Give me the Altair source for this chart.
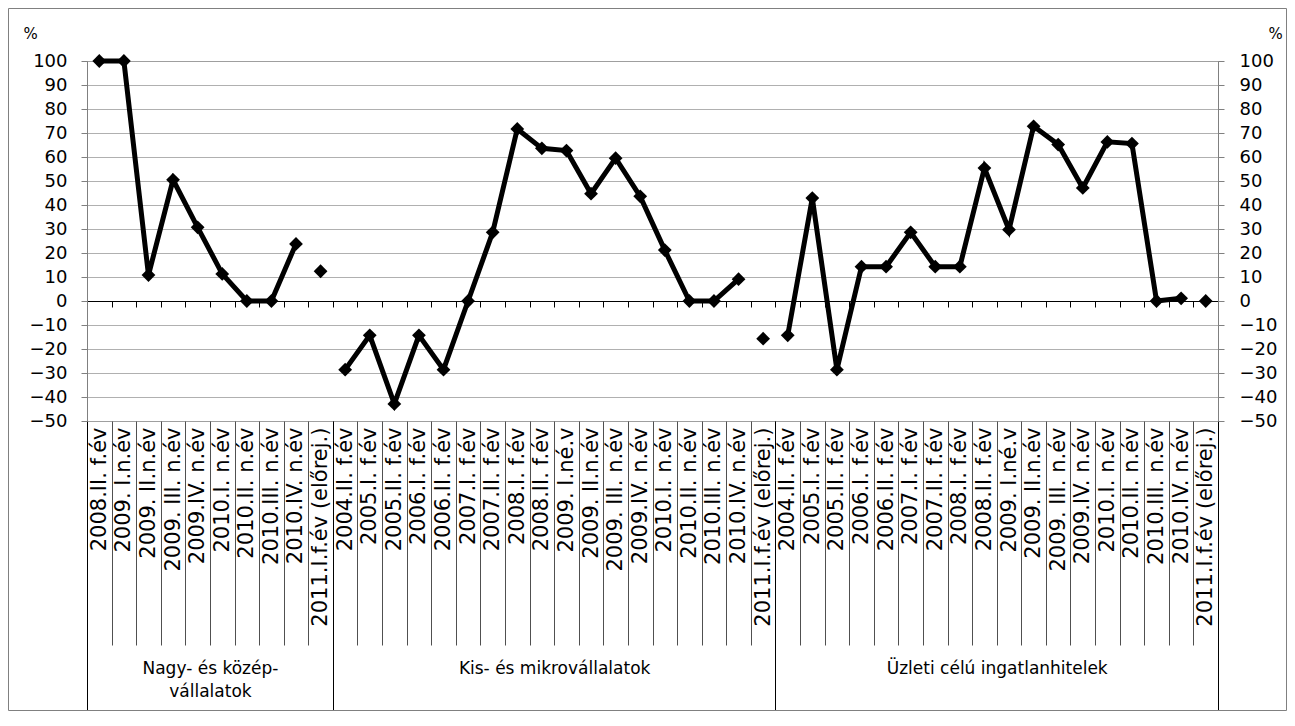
import json
import altair as alt
import pandas as pd

group_names = ["Nagy- és közép-vállalatok", "Kis- és mikrovállalatok", "Üzleti célú ingatlanhitelek"]

labels_g1 = ["2008.II. f.év", "2009. I.n.év", "2009. II.n.év", "2009. III. n.év", "2009.IV. n.év",
             "2010.I. n.év", "2010.II. n.év", "2010.III. n.év", "2010.IV. n.év", "2011.I.f.év (előrej.)"]
labels_g23 = ["2004.II. f.év", "2005.I. f.év", "2005.II. f.év", "2006.I. f.év", "2006.II. f.év",
              "2007.I. f.év", "2007.II. f.év", "2008.I. f.év", "2008.II. f.év", "2009. I.né.v",
              "2009. II.n.év", "2009. III. n.év", "2009.IV. n.év", "2010.I. n.év", "2010.II. n.év",
              "2010.III. n.év", "2010.IV. n.év", "2011.I.f.év (előrej.)"]

values_g1 = [100, 100, 10.8, 50.5, 30.7, 11.3, 0, 0, 23.8, 12.4]
values_g2 = [-28.6, -14.3, -42.9, -14.3, -28.6, 0, 28.6, 71.7, 63.6, 62.7, 44.7, 59.5, 43.6, 21.2, 0, 0, 9.1, -15.7]
values_g3 = [-14.3, 42.9, -28.6, 14.3, 14.3, 28.6, 14.3, 14.3, 55.4, 29.7, 72.8, 65.2, 47.1, 66.3, 65.6, 0, 1.1, 0]

y_ticks = [-50, -40, -30, -20, -10, 0, 10, 20, 30, 40, 50, 60, 70, 80, 90, 100]

all_labels = labels_g1 + labels_g23 + labels_g23
groups = [(group_names[0], labels_g1, values_g1),
          (group_names[1], labels_g23, values_g2),
          (group_names[2], labels_g23, values_g3)]
rows = []
pos = 0
bounds = [0]
centers = []
for g, labs, vals in groups:
    start = pos
    for i, (lab, v) in enumerate(zip(labs, vals)):
        rows.append({"idx": pos + 0.5, "value": v, "group": g,
                     "forecast": i == len(labs) - 1, "label": lab})
        pos += 1
    bounds.append(pos)
    centers.append((start + pos) / 2)
df = pd.DataFrame(rows)
N = pos

FONT = "DejaVu Sans"
xscale = alt.Scale(domain=[0, N], nice=False, zero=False)
yscale = alt.Scale(domain=[-50, 100], nice=False, zero=False)

label_expr = json.dumps(all_labels, ensure_ascii=False) + "[floor(datum.value)]"
group_expr = ("datum.value < %d ? ['Nagy- és közép-', 'vállalatok'] : datum.value < %d ? "
              "'Kis- és mikrovállalatok' : 'Üzleti célú ingatlanhitelek'") % (bounds[1], bounds[2])

base = alt.Chart(df)

# Main line with category labels + left y axis
line = base.transform_filter("!datum.forecast").mark_line(
    color="black", strokeWidth=5
).encode(
    x=alt.X("idx:Q", scale=xscale, axis=alt.Axis(
        orient="bottom", values=[i + 0.5 for i in range(N)], labelExpr=label_expr,
        labelAngle=270, labelAlign="right", labelBaseline="middle",
        labelFontSize=21, labelFont=FONT, labelColor="black", labelPadding=6, labelLimit=0,
        labelOverlap=False, labelFlush=False, ticks=False, domain=False, grid=False, title=None)),
    y=alt.Y("value:Q", scale=yscale, axis=alt.Axis(
        orient="left", values=y_ticks, labelFontSize=18, labelFont=FONT, labelColor="black",
        tickSize=6, tickColor="#808080", domainColor="#808080", labelPadding=14,
        grid=True, gridColor="#606060", gridDash=[1, 1], gridWidth=1,
        title="%", titleAngle=0, titleX=-57, titleY=-28, titleAlign="center",
        titleBaseline="middle", titleFontWeight="normal", titleFontSize=15, titleFont=FONT)),
    detail="group:N",
)

# Diamonds on the line + category separators + right y axis
pts = base.transform_filter("!datum.forecast").mark_point(
    shape="diamond", filled=True, color="black", size=190, opacity=1
).encode(
    x=alt.X("idx:Q", scale=xscale, axis=alt.Axis(
        orient="bottom", values=list(range(N + 1)), labels=False, ticks=True, tickSize=224,
        tickColor="#505050", tickWidth=1, domain=False, grid=False, title=None)),
    y=alt.Y("value:Q", scale=yscale, axis=alt.Axis(
        orient="right", values=y_ticks, labelFontSize=18, labelFont=FONT, labelColor="black",
        tickSize=6, tickColor="#808080", domainColor="#808080", labelPadding=15, grid=False,
        title="%", titleAngle=0, titleX=57, titleY=-28, titleAlign="center",
        titleBaseline="middle", titleFontWeight="normal", titleFontSize=15, titleFont=FONT)),
)

# Forecast diamonds + group separators
fc = base.transform_filter("datum.forecast").mark_point(
    shape="diamond", filled=True, color="black", size=190, opacity=1
).encode(
    x=alt.X("idx:Q", scale=xscale, axis=alt.Axis(
        orient="bottom", values=bounds, labels=False, ticks=True, tickSize=290,
        tickColor="black", tickWidth=1, domain=False, grid=False, title=None)),
    y=alt.Y("value:Q", scale=yscale, axis=None),
)

# Group labels
grp = base.mark_point(opacity=0).encode(
    x=alt.X("idx:Q", scale=xscale, axis=alt.Axis(
        orient="bottom", values=centers, labelExpr=group_expr, labelAngle=0,
        labelAlign="center", labelBaseline="top", labelFontSize=17, labelFont=FONT,
        labelColor="black", labelPadding=239, labelLineHeight=23, labelLimit=0,
        labelOverlap=False, labelFlush=False, ticks=False, domain=False, grid=False, title=None)),
    y=alt.Y("value:Q", scale=yscale, axis=None),
)

# Zero line with small ticks
zero = base.mark_point(opacity=0).encode(
    x=alt.X("idx:Q", scale=xscale, axis=alt.Axis(
        orient="bottom", offset=-120, values=list(range(N + 1)), labels=False, ticks=True,
        tickSize=6, tickColor="black", domain=True, domainColor="black", domainWidth=1,
        grid=False, title=None)),
    y=alt.Y("value:Q", scale=yscale, axis=None),
)

border = alt.Chart(alt.Data(values=[{"a": 1}])).mark_rect(
    filled=False, stroke="#808080", strokeWidth=1
).encode(
    x=alt.value(-78.5), x2=alt.value(1131 + 68.5),
    y=alt.value(-52.5), y2=alt.value(360 + 289.5),
)

chart = alt.layer(line, pts, fc, grp, zero, border).resolve_axis(
    x="independent", y="independent"
).properties(
    width=1131, height=360,
    autosize=alt.AutoSizeParams(type="none"),
    padding={"left": 79, "top": 53, "right": 69, "bottom": 290},
).configure_view(stroke="#808080", strokeWidth=1).configure(background="white")

chart.save("out.html", embed_options={"renderer": "svg", "actions": False})
